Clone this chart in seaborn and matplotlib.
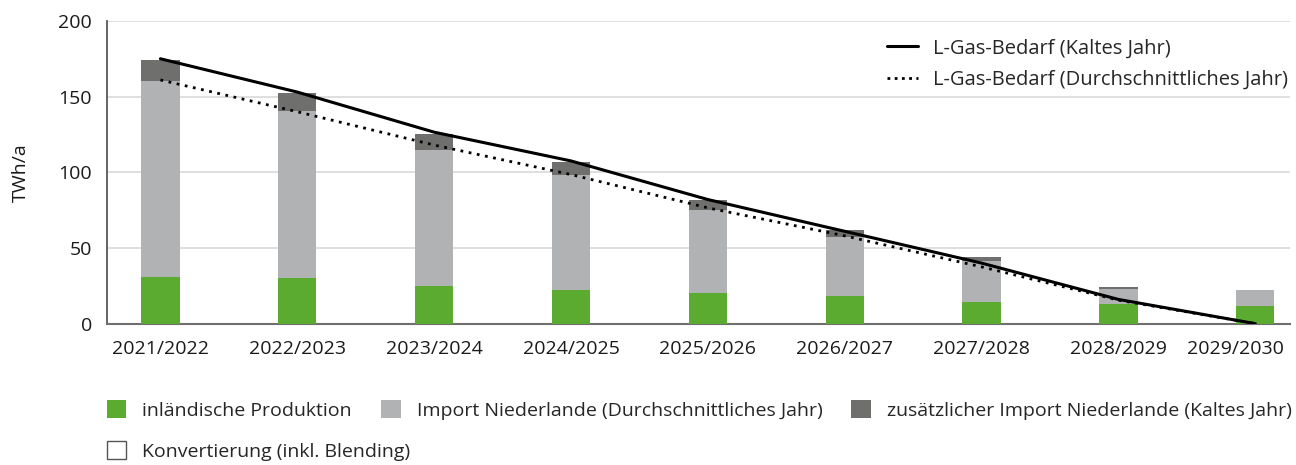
import numpy as np
import pandas as pd
import matplotlib
matplotlib.use("Agg")
import matplotlib.pyplot as plt
import seaborn as sns
import matplotlib.transforms as mtransforms
from matplotlib.patches import Patch
from matplotlib.lines import Line2D

# ---- data ----
years = ["2021/2022", "2022/2023", "2023/2024", "2024/2025", "2025/2026",
         "2026/2027", "2027/2028", "2028/2029", "2029/2030"]
inland = [31, 30.2, 24.9, 22.2, 20.3, 18.5, 14.5, 13.0, 11.6]
import_avg = [129, 110, 90, 76, 55, 39, 27, 10, 10.6]
import_extra = [14.5, 12.5, 10.5, 8.5, 6.5, 4.5, 2.5, 1.3, 0]
conversion = [0, 0, 0, 0, 0, 0, 0, 0, 0]
demand_cold = [175, 153, 126.5, 107.5, 82, 61, 40, 16, 0]
demand_avg = [161, 140, 118, 98.5, 76.5, 58, 37.5, 15.5, 0]

labels_bars = ["inländische Produktion", "Import Niederlande (Durchschnittliches Jahr)",
               "zusätzlicher Import Niederlande (Kaltes Jahr)", "Konvertierung (inkl. Blending)"]
labels_lines = ["L-Gas-Bedarf (Kaltes Jahr)", "L-Gas-Bedarf (Durchschnittliches Jahr)"]

# ---- style ----
sns.set_style("white")
plt.rcParams["font.family"] = ["Open Sans", "DejaVu Sans"]
plt.rcParams["font.size"] = 14

c_green = "#5aab2f"
c_light = "#b1b2b4"
c_dark = "#6f6f6e"
c_grid = "#d9d9d9"
c_text = "#1a1a1a"

df = pd.DataFrame({"year": years, "inland": inland, "import_avg": import_avg,
                   "import_extra": import_extra, "conversion": conversion,
                   "cold": demand_cold, "avg": demand_avg})
df["lvl1"] = df["inland"]
df["lvl2"] = df["lvl1"] + df["import_avg"]
df["lvl3"] = df["lvl2"] + df["import_extra"]

fig = plt.figure(figsize=(12.96, 4.65), dpi=100)
ax = fig.add_axes([0.0826, 0.304, 0.9124, 0.651])

bw = 0.28
for col, c in [("lvl3", c_dark), ("lvl2", c_light), ("lvl1", c_green)]:
    sns.barplot(data=df, x="year", y=col, color=c, saturation=1, width=bw,
                linewidth=0, edgecolor="none", ax=ax, zorder=3)

sns.lineplot(data=df, x="year", y="cold", color="black", lw=2.2, sort=False, ax=ax, zorder=5)
sns.lineplot(data=df, x="year", y="avg", color="black", lw=2.0, ls=(0, (1, 2.0)), sort=False, ax=ax, zorder=5)

ax.set_xlim(-0.39, 8.25)
ax.set_ylim(0, 200)
ax.set_yticks([0, 50, 100, 150, 200])
ax.yaxis.grid(True, color=c_grid, lw=1.2, zorder=0)
ax.set_axisbelow(True)
ax.set_xlabel("")
ax.set_ylabel("TWh/a", fontsize=14, labelpad=20, color=c_text)

for s in ["top", "right"]:
    ax.spines[s].set_visible(False)
ax.spines["left"].set_color("#4a4a4a")
ax.spines["left"].set_linewidth(1.2)
ax.spines["bottom"].set_color("#707070")
ax.spines["bottom"].set_linewidth(1.5)

ax.tick_params(axis="y", direction="in", length=11.5, width=1.5, color="#555555",
               pad=11, labelsize=14, labelcolor=c_text)
ax.tick_params(axis="x", length=0, pad=12, labelsize=14, labelcolor=c_text)

# shift the last x label left so it fits inside the figure (as in the reference)
last = ax.get_xticklabels()[-1]
last.set_transform(last.get_transform() + mtransforms.ScaledTranslation(-20 / 100, 0, fig.dpi_scale_trans))

# line legend
lh = [Line2D([0], [0], color="black", lw=2.2),
      Line2D([0], [0], color="black", lw=2.0, ls=(0, (1, 1.6)))]
ax.legend(lh, labels_lines, loc="upper right", bbox_to_anchor=(0.999, 0.942),
          frameon=False, fontsize=14.5, handlelength=1.55, handletextpad=0.75,
          labelspacing=0.55, borderaxespad=0, borderpad=0)

# bar legends: first row of three, second row of one
bh = [Patch(facecolor=c_green, edgecolor="none"),
      Patch(facecolor=c_light, edgecolor="none"),
      Patch(facecolor=c_dark, edgecolor="none")]
fig.legend(bh, labels_bars[:3], ncol=3, loc="center left",
           bbox_to_anchor=(107 / 1296, 1 - 410 / 465),
           frameon=False, fontsize=14, handlelength=1.0, handleheight=1.0,
           handletextpad=0.82, columnspacing=1.5,
           borderaxespad=0, borderpad=0)
fig.legend([Patch(facecolor="white", edgecolor="#555555", lw=1.0)], labels_bars[3:],
           loc="center left", bbox_to_anchor=(107 / 1296, 1 - 451 / 465),
           frameon=False, fontsize=14, handlelength=1.0, handleheight=1.0,
           handletextpad=0.82, borderaxespad=0, borderpad=0)

fig.savefig("out.png", dpi=100)
